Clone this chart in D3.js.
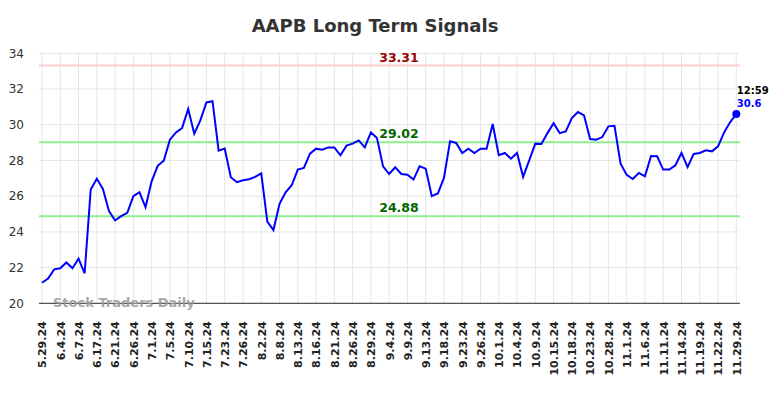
<!DOCTYPE html>
<html>
<head>
<meta charset="utf-8">
<script src="https://cdn.jsdelivr.net/npm/d3@7"></script>
<style>
  body { margin: 0; background: #fff; }
  text { font-family: "DejaVu Sans", sans-serif; }
</style>
</head>
<body>
<div id="chart"></div>
<script>
// tick labels, one every 3 points
var dates = ["5.29.24","6.4.24","6.7.24","6.17.24","6.21.24","6.26.24","7.1.24","7.5.24",
  "7.10.24","7.15.24","7.23.24","7.26.24","8.2.24","8.8.24","8.13.24","8.16.24","8.21.24",
  "8.26.24","8.29.24","9.4.24","9.9.24","9.13.24","9.18.24","9.23.24","9.26.24","10.1.24",
  "10.4.24","10.9.24","10.15.24","10.18.24","10.23.24","10.28.24","11.1.24","11.6.24",
  "11.11.24","11.14.24","11.19.24","11.22.24","11.29.24"];

var prices = [21.15,21.38,21.9,21.96,22.29,21.96,22.5,21.68,26.37,26.98,
  26.4,25.16,24.64,24.88,25.07,26.0,26.22,25.38,26.83,27.7,
  27.99,29.16,29.57,29.81,30.89,29.5,30.24,31.25,31.32,28.55,
  28.66,27.06,26.78,26.89,26.95,27.08,27.28,24.58,24.1,25.57,
  26.22,26.61,27.49,27.58,28.38,28.66,28.6,28.73,28.73,28.29,
  28.83,28.94,29.12,28.73,29.57,29.26,27.67,27.24,27.62,27.24,
  27.2,26.93,27.67,27.54,26.0,26.15,27.02,29.07,28.98,28.42,
  28.66,28.42,28.66,28.66,30.04,28.29,28.42,28.1,28.42,27.08,
  28.0,28.94,28.92,29.53,30.09,29.53,29.63,30.37,30.71,30.52,
  29.2,29.16,29.31,29.91,29.94,27.82,27.19,26.96,27.3,27.11,
  28.25,28.23,27.49,27.49,27.73,28.42,27.63,28.36,28.42,28.57,
  28.51,28.79,29.57,30.15,30.6];

var yTicks = [20, 22, 24, 26, 28, 30, 32, 34];
var levels = [33.31, 29.02, 24.88];
var levelKind = ["high", "mid", "low"];
var lastTime = "12:59";

var W = 784, H = 398;
var pLeft = 39, pRight = 740, pTop = 53.3, pBottom = 303.3;

var svg = d3.select("#chart").append("svg")
  .attr("width", W).attr("height", H);

var x = d3.scaleLinear().domain([0, prices.length - 1]).range([42, 736.3]);
var y = d3.scaleLinear().domain([20, 34]).range([pBottom, pTop]);

var tickIdx = d3.range(0, prices.length, 3);

// grid
svg.append("g").selectAll("line").data(tickIdx).join("line")
  .attr("x1", d => x(d)).attr("x2", d => x(d))
  .attr("y1", pTop).attr("y2", pBottom)
  .attr("stroke", "#e6e6e6").attr("stroke-width", 1);

svg.append("g").selectAll("line").data(yTicks).join("line")
  .attr("x1", pLeft).attr("x2", pRight)
  .attr("y1", d => y(d)).attr("y2", d => y(d))
  .attr("stroke", "#e6e6e6").attr("stroke-width", 1);

// y labels
svg.append("g").selectAll("text").data(yTicks).join("text")
  .attr("x", 24).attr("y", d => y(d))
  .attr("dy", "0.35em")
  .attr("text-anchor", "end")
  .style("font-size", "12px")
  .style("fill", "#333")
  .text(d => d);

// x axis
var xAxis = d3.axisBottom(x)
  .tickValues(tickIdx)
  .tickFormat((d, i) => dates[i])
  .tickSize(0);

var gx = svg.append("g")
  .attr("transform", "translate(0," + pBottom + ")")
  .call(xAxis);
gx.select(".domain").remove();
gx.selectAll("text")
  .attr("transform", "translate(0,18) rotate(-90)")
  .attr("x", 0).attr("y", 0)
  .attr("dy", "0.35em")
  .attr("text-anchor", "end")
  .style("font-family", "DejaVu Sans, sans-serif")
  .style("font-size", "11px")
  .style("font-weight", "bold")
  .style("fill", "#222");

svg.append("line")
  .attr("x1", pLeft).attr("x2", pRight)
  .attr("y1", pBottom).attr("y2", pBottom)
  .attr("stroke", "#555").attr("stroke-width", 1.2);

// signal levels
var lineCol = { high: "#ffcccc", mid: "#90ee90", low: "#90ee90" };
var textCol = { high: "#990000", mid: "#006600", low: "#006600" };

svg.append("g").selectAll("line").data(levels).join("line")
  .attr("x1", pLeft).attr("x2", pRight)
  .attr("y1", d => y(d)).attr("y2", d => y(d))
  .attr("stroke", (d, i) => lineCol[levelKind[i]])
  .attr("stroke-width", 2);

svg.append("g").selectAll("text").data(levels).join("text")
  .attr("x", 399).attr("y", d => y(d) - 4)
  .attr("text-anchor", "middle")
  .style("font-size", "12.5px")
  .style("font-weight", "bold")
  .style("fill", (d, i) => textCol[levelKind[i]])
  .text(d => d.toFixed(2));

// watermark
svg.append("text")
  .attr("x", 53).attr("y", 307)
  .style("font-size", "13px")
  .style("font-weight", "bold")
  .style("fill", "#999")
  .style("opacity", 0.85)
  .text("Stock Traders Daily");

// price line
var line = d3.line().x((d, i) => x(i)).y(d => y(d));
svg.append("path").datum(prices)
  .attr("d", line)
  .attr("fill", "none")
  .attr("stroke", "#0000ff")
  .attr("stroke-width", 2);

var li = prices.length - 1;
svg.append("circle")
  .attr("cx", x(li)).attr("cy", y(prices[li]))
  .attr("r", 4).attr("fill", "#0000ff");

svg.append("text")
  .attr("x", x(li) + 0.5).attr("y", y(prices[li]) - 20)
  .style("font-size", "10px").style("font-weight", "bold")
  .style("fill", "#000")
  .text(lastTime);

svg.append("text")
  .attr("x", x(li) + 0.5).attr("y", y(prices[li]) - 7)
  .style("font-size", "10px").style("font-weight", "bold")
  .style("fill", "#0000ff")
  .text(prices[li]);

// title
svg.append("text")
  .attr("x", 375).attr("y", 32)
  .attr("text-anchor", "middle")
  .style("font-size", "18px")
  .style("font-weight", "bold")
  .style("fill", "#333")
  .text("AAPB Long Term Signals");
</script>
</body>
</html>
